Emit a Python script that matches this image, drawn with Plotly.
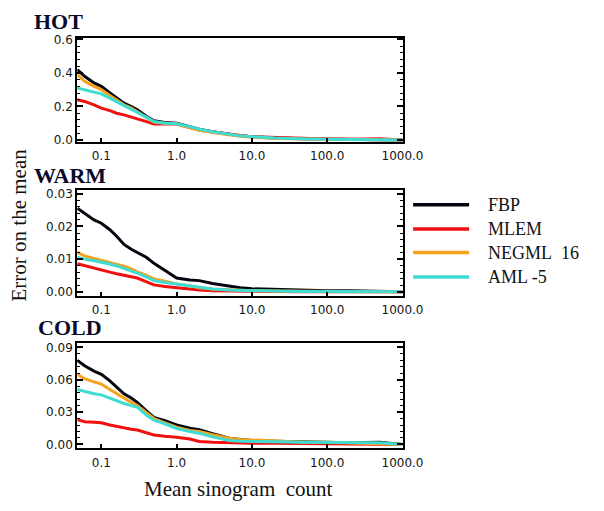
import plotly.graph_objects as go

# ---------------- data ----------------
count_grid = [0.048, 0.06, 0.08, 0.1, 0.13, 0.16, 0.2, 0.25, 0.3, 0.4, 0.5, 0.7,
              1.0, 1.5, 2, 3, 5, 7, 10, 20, 50, 100, 200, 500, 1000]

series_names = ["FBP", "MLEM", "NEGML\u00a0 16", "AML -5"]
series_colors = ["#05050f", "#f01010", "#f5a21e", "#3edcd2"]

hot_fbp = [0.42, 0.38, 0.34, 0.32, 0.28, 0.25, 0.22, 0.20, 0.18, 0.14, 0.115, 0.105,
           0.10, 0.08, 0.065, 0.05, 0.035, 0.025, 0.02, 0.012, 0.008, 0.005, 0.004, 0.002, 0.0]
hot_mlem = [0.24, 0.23, 0.21, 0.19, 0.175, 0.16, 0.15, 0.135, 0.126, 0.11, 0.095, 0.095,
            0.095, 0.075, 0.06, 0.05, 0.035, 0.027, 0.02, 0.015, 0.01, 0.007, 0.005, 0.008, 0.0]
hot_negml = [0.39, 0.35, 0.32, 0.30, 0.265, 0.24, 0.21, 0.19, 0.168, 0.132, 0.107, 0.10,
             0.095, 0.075, 0.058, 0.045, 0.03, 0.022, 0.017, 0.01, 0.006, 0.004, 0.003, 0.001, 0.0]
hot_aml = [0.31, 0.30, 0.285, 0.275, 0.25, 0.23, 0.205, 0.185, 0.165, 0.135, 0.11, 0.10,
           0.097, 0.08, 0.065, 0.05, 0.035, 0.025, 0.02, 0.012, 0.007, 0.004, 0.003, 0.002, 0.0]

warm_fbp = [0.0256, 0.024, 0.022, 0.021, 0.019, 0.017, 0.0145, 0.013, 0.012, 0.0105, 0.0087, 0.0065,
            0.0042, 0.0036, 0.0034, 0.0025, 0.0016, 0.0012, 0.0009, 0.0007, 0.0005, 0.0003, 0.0003, 0.0001, 0.0]
warm_mlem = [0.0086, 0.008, 0.0071, 0.0066, 0.006, 0.0055, 0.005, 0.0046, 0.0042, 0.003, 0.0021, 0.0016,
             0.0012, 0.0008, 0.0005, 0.0003, 0.0002, 0.0001, 0.0001, 0.0001, 0.0, 0.0, 0.0, 0.0, 0.0]
warm_negml = [0.0121, 0.011, 0.0102, 0.0096, 0.009, 0.0084, 0.0078, 0.007, 0.0061, 0.005, 0.0039, 0.0032,
              0.0024, 0.0018, 0.0012, 0.0008, 0.0005, 0.0004, 0.0003, 0.0002, 0.0001, 0.0001, 0.0, 0.0, 0.0]
warm_aml = [0.0106, 0.0100, 0.0095, 0.0091, 0.0085, 0.0079, 0.0072, 0.0064, 0.0057, 0.0045, 0.0034, 0.0028,
            0.0023, 0.0017, 0.0012, 0.0008, 0.0005, 0.0004, 0.0003, 0.0002, 0.0001, 0.0001, 0.0, 0.0, 0.0]

cold_fbp = [0.078, 0.073, 0.068, 0.065, 0.059, 0.053, 0.047, 0.043, 0.039, 0.031, 0.025, 0.022,
            0.018, 0.015, 0.0136, 0.010, 0.0057, 0.0045, 0.0036, 0.003, 0.0025, 0.002, 0.0015, 0.002, 0.0]
cold_mlem = [0.023, 0.021, 0.0205, 0.020, 0.018, 0.0165, 0.015, 0.014, 0.0133, 0.011, 0.0088, 0.0075,
             0.0067, 0.005, 0.0027, 0.002, 0.0015, 0.001, 0.001, 0.001, 0.0008, 0.0006, 0.0005, 0.0, 0.0]
cold_negml = [0.065, 0.061, 0.058, 0.056, 0.051, 0.047, 0.043, 0.039, 0.036, 0.029, 0.024, 0.020,
              0.016, 0.013, 0.012, 0.009, 0.0057, 0.0045, 0.004, 0.003, 0.002, 0.002, 0.0015, 0.001, 0.0]
cold_aml = [0.051, 0.049, 0.047, 0.046, 0.043, 0.040, 0.038, 0.036, 0.0345, 0.027, 0.0224, 0.019,
            0.0148, 0.012, 0.0103, 0.007, 0.0036, 0.003, 0.003, 0.0025, 0.002, 0.002, 0.0015, 0.0015, 0.0]

x_tickvals = [0.1, 1, 10, 100, 1000]
x_ticktext = ["0.1", "1.0", "10.0", "100.0", "1000.0"]
hot_yticks = [0.0, 0.2, 0.4, 0.6]
hot_ytext = ["0.0", "0.2", "0.4", "0.6"]
warm_yticks = [0.0, 0.01, 0.02, 0.03]
warm_ytext = ["0.00", "0.01", "0.02", "0.03"]
cold_yticks = [0.0, 0.03, 0.06, 0.09]
cold_ytext = ["0.00", "0.03", "0.06", "0.09"]

panel_titles = ["HOT", "WARM", "COLD"]

# ---------------- figure ----------------
W, H = 604, 511
fig = go.Figure()

panels = [
    ([hot_fbp, hot_mlem, hot_negml, hot_aml], "x", "y"),
    ([warm_fbp, warm_mlem, warm_negml, warm_aml], "x2", "y2"),
    ([cold_fbp, cold_mlem, cold_negml, cold_aml], "x3", "y3"),
]
for vals, xa, ya in panels:
    for name, color, v in zip(series_names, series_colors, vals):
        fig.add_trace(go.Scatter(x=count_grid, y=v, mode="lines", name=name,
                                 line=dict(color=color, width=3), xaxis=xa, yaxis=ya,
                                 showlegend=False))

def px_x(p):
    return p / W

def px_y(p):
    return 1 - p / H

x_dom = [px_x(80), px_x(417)]
y_doms = [[px_y(139), px_y(33)], [px_y(296), px_y(188)], [px_y(452), px_y(344)]]
y_ranges = [[-0.0116, 0.606], [-0.0012, 0.0312], [-0.0036, 0.0945]]
y_ticks = [(hot_yticks, hot_ytext, 0.04), (warm_yticks, warm_ytext, 0.002), (cold_yticks, cold_ytext, 0.006)]

tickfont = dict(family="DejaVu Sans, Verdana, sans-serif", size=12, color="#151515")
axis_common = dict(showline=True, linecolor="black", linewidth=2, showgrid=False,
                   zeroline=False, ticks="inside", tickcolor="black", tickwidth=1.5)

layout = dict(width=W, height=H, margin=dict(l=0, r=0, t=0, b=0),
              paper_bgcolor="white", plot_bgcolor="white", showlegend=False)
for i in range(3):
    sfx = "" if i == 0 else str(i + 1)
    layout["xaxis" + sfx] = dict(axis_common, domain=x_dom, type="log", range=[-1.32, 3.0],
                                 tickvals=x_tickvals, ticktext=x_ticktext, ticklen=4,
                                 mirror=True, tickfont=tickfont, ticklabelstandoff=2,
                                 anchor="y" + sfx)
    tv, tt, minor_d = y_ticks[i]
    layout["yaxis" + sfx] = dict(axis_common, domain=y_doms[i], range=y_ranges[i],
                                 tickvals=tv, ticktext=tt, ticklen=6, mirror="allticks",
                                 minor=dict(ticks="inside", ticklen=3, dtick=minor_d,
                                            tick0=0, tickcolor="black", tickwidth=1),
                                 tickfont=tickfont, anchor="x" + sfx)
fig.update_layout(**layout)

serif = "Liberation Serif, Times New Roman, serif"
title_pos = [(33, 15.5), (33, 173), (37, 329)]
for t, (tx, ty) in zip(panel_titles, title_pos):
    fig.add_annotation(text="<b>" + t + "</b>", x=px_x(tx), y=px_y(ty), xref="paper", yref="paper",
                       xanchor="left", yanchor="middle", showarrow=False,
                       font=dict(family=serif, size=22, color="#0a0a2a"))

fig.add_annotation(text="Error on the mean", x=px_x(20), y=px_y(224), xref="paper", yref="paper",
                   textangle=-90, showarrow=False, xanchor="center", yanchor="middle",
                   font=dict(family=serif, size=21, color="#111"))
fig.add_annotation(text="Mean sinogram\u00a0 count", x=px_x(247.5), y=px_y(494), xref="paper", yref="paper",
                   showarrow=False, xanchor="center", yanchor="middle",
                   font=dict(family=serif, size=21, color="#111"))

# manual legend
leg_y = [203, 228, 252, 277]
for name, color, ly in zip(series_names, series_colors, leg_y):
    fig.add_shape(type="line", xref="paper", yref="paper", x0=px_x(428), x1=px_x(486),
                  y0=px_y(ly), y1=px_y(ly), line=dict(color=color, width=3.5))
    fig.add_annotation(text=name, x=px_x(503), y=px_y(ly), xref="paper", yref="paper",
                       xanchor="left", yanchor="middle", showarrow=False,
                       font=dict(family=serif, size=18, color="#111"))

fig.write_html(
    "out.html",
    config={"displayModeBar": False},
    post_script=("document.documentElement.style.margin='0';"
                 "document.documentElement.style.overflow='hidden';"
                 "document.body.style.margin='0';"
                 "document.body.style.overflow='hidden';"),
)
